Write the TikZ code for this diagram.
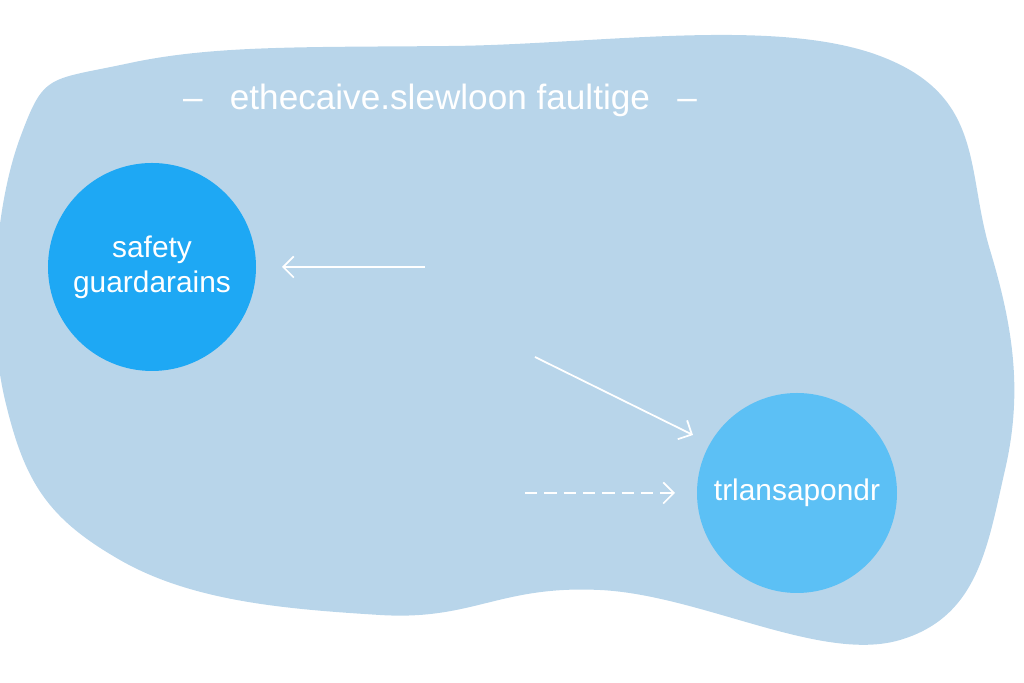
\documentclass[tikz,border=0pt]{standalone}
\usepackage{fontspec}
\setmainfont{Liberation Sans}
\usetikzlibrary{positioning, arrows.meta}
\definecolor{blob}{HTML}{B8D5EA}
\definecolor{hub}{HTML}{1EA8F4}
\definecolor{hublight}{HTML}{5CC0F5}
\tikzset{
every node/.style={text=white},
topic/.style={circle, inner sep=0pt, align=center, font=\fontsize{17}{20}\selectfont},
link/.style={white, line width=1pt, -{Straight Barb[length=6pt,width=12pt]}},
}

\begin{document}
\begin{tikzpicture}
        \useasboundingbox (0,0) rectangle (20.48,13.66);
        % background blob
        \fill[blob] plot[smooth cycle, tension=0.7] coordinates {(2.6,12.4) (9,12.74) (17.6,12.54) (19.8,8.66) (20.1,4.26) (18,0.86) (12,1.86) (7.6,1.36) (2.4,2.46) (0.1,5.66) (0.4,10.9)};

        \node[font=\fontsize{20}{24}\selectfont] (title) at (8.8,11.66) {--\enspace\ ethecaive.slewloon faultige\ \enspace --};

        % topics
        \node[topic, fill=hub, minimum size=4.16cm] (safety) at (3.04,8.32) {safety\\guardarains};
        \node[topic, fill=hublight, minimum size=4cm] (trans) at (15.94,3.8) {trlansapondr};

        % links
        \coordinate (a1) at (8.5,8.32);
        \coordinate (b1) at (5.64,8.32);
        \coordinate (a2) at (10.7,6.52);
        \coordinate (a3) at (10.5,3.8);
        \coordinate (b2) at (13.86,4.96);
        \coordinate (b3) at (13.5,3.8);
        \draw[link] (a1) -- (b1);
        \draw[link] (a2) -- (b2);
        \draw[link, dash pattern=on 7pt off 4pt] (a3) -- (b3);
    \end{tikzpicture}
\end{document}
